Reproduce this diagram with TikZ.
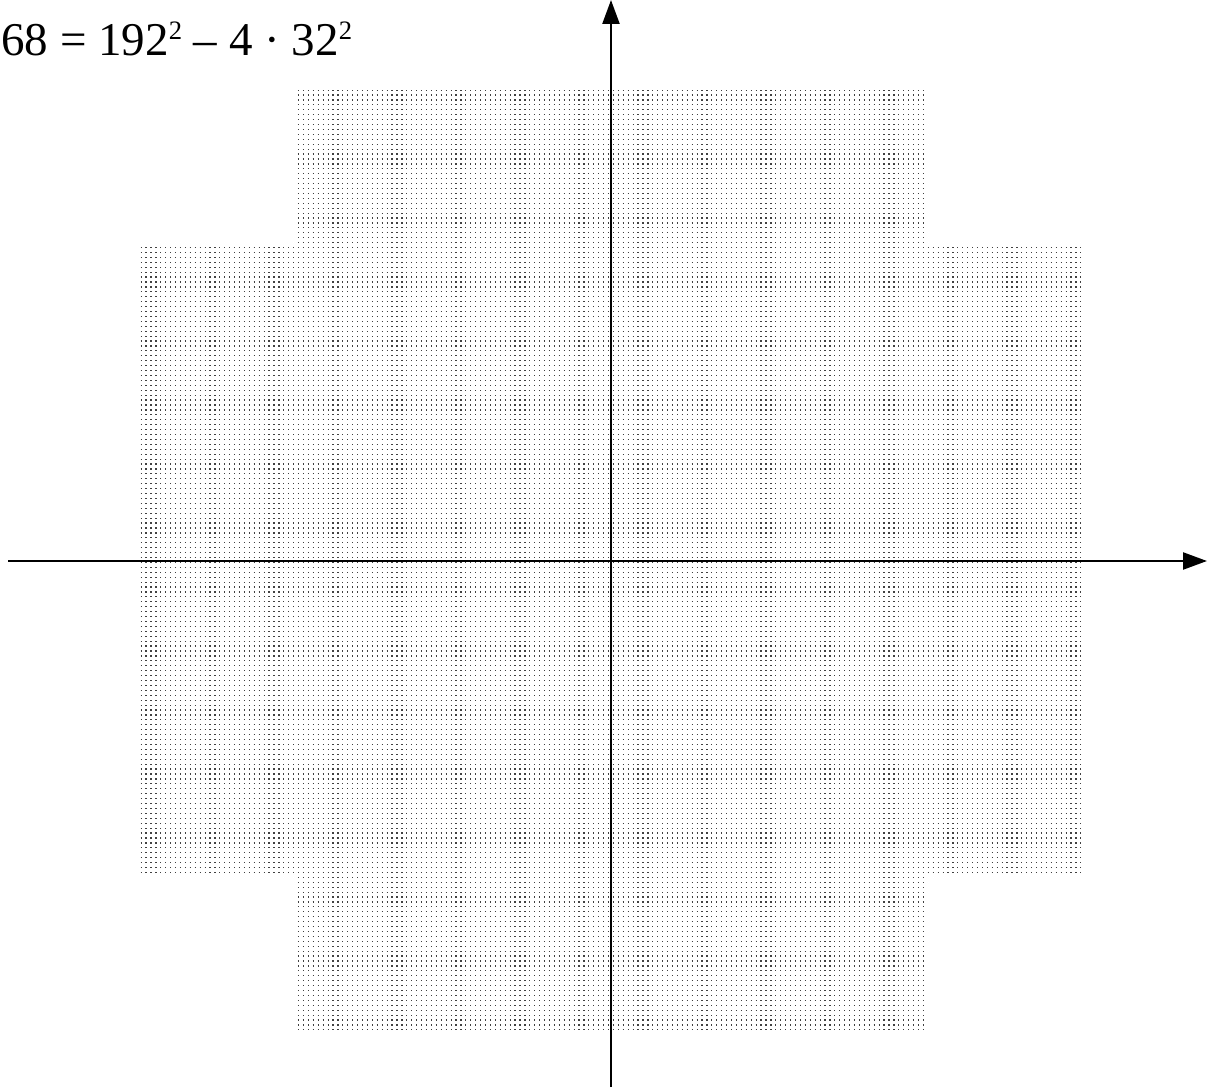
\documentclass[tikz,border=0pt]{standalone}
\usepackage{fontspec}
\setmainfont{Liberation Serif}
\usetikzlibrary{arrows.meta}
\newcommand\supsq{\raisebox{8.3pt}{\fontsize{13.3pt}{14pt}\selectfont 2}}
\begin{document}
\begin{tikzpicture}[x=0.5pt, y=-0.5pt,
  axis/.style={line width=1.2pt, -{Triangle[length=12pt, width=8.5pt]}},
  dotrow/.style={line width=0.6pt, black!75, dash pattern=on 0.6pt off 1.86pt},
]
\useasboundingbox (0,0) rectangle (1207,1091);
% dots: 192^2 - 4*32^2 of them, one dashed line per row
\foreach \r in {0,...,191}{
  \pgfmathsetmacro\hw{(\r<32 || \r>159) ? 63.5 : 95.5}
  \pgfmathsetmacro\yy{560 + (\r-95.5)*4.92}
  \draw[dotrow] ({611-\hw*4.92-0.6},\yy) -- ({611+\hw*4.92+0.6},\yy);
}
% axes
\coordinate (xl) at (8,561);
\coordinate (xr) at (1207,561);
\coordinate (yb) at (611,1087);
\coordinate (yt) at (611,0);
\draw[axis] (xl) -- (xr);
\draw[axis] (yb) -- (yt);
\node[anchor=base west, inner sep=0pt, font=\fontsize{23.5pt}{28pt}\selectfont] (eq) at (1,56)
  {68 = 192\supsq{} – 4 · 32\supsq};
\end{tikzpicture}
\end{document}
